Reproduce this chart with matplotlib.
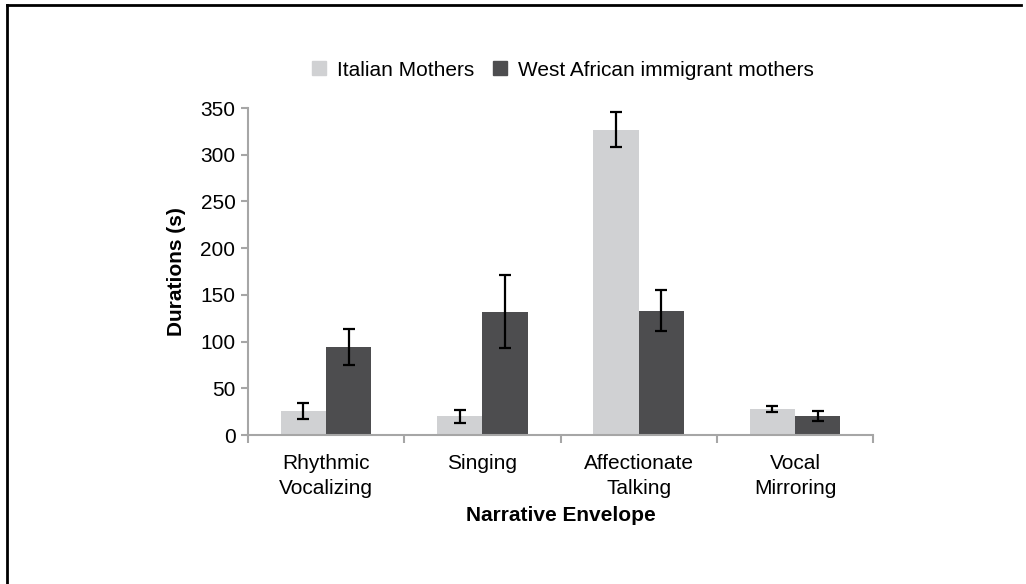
import matplotlib
matplotlib.use("Agg")
import matplotlib.pyplot as plt
import numpy as np
from matplotlib.lines import Line2D

plt.rcParams['font.family'] = ['Liberation Sans', 'DejaVu Sans']

# data
categories = ['Rhythmic\nVocalizing', 'Singing', 'Affectionate\nTalking', 'Vocal\nMirroring']
italian = [26, 20, 327, 28]
italian_err = [8.5, 6.6, 18.4, 3.4]
african = [94, 132, 133, 20]
african_err = [19, 39, 22, 5.5]
series_names = ['Italian Mothers', 'West African immigrant mothers']

light = '#d0d1d3'
dark = '#4d4d4f'
axis_grey = '#a6a6a6'

fig = plt.figure(figsize=(10.26, 5.84), dpi=100)
ax = fig.add_axes([0.2417, 0.2551, 0.851 - 0.2417, 0.815 - 0.2551])

x = np.arange(len(categories))
w = 0.29
ax.bar(x - w / 2, italian, w, color=light, zorder=2)
ax.bar(x + w / 2, african, w, color=dark, zorder=2)
ax.errorbar(x - w / 2, italian, yerr=italian_err, fmt='none', ecolor='black',
            elinewidth=1.6, capsize=4, capthick=1.6, zorder=3)
ax.errorbar(x + w / 2, african, yerr=african_err, fmt='none', ecolor='black',
            elinewidth=1.6, capsize=4, capthick=1.6, zorder=3)

ax.set_xlim(-0.5, len(categories) - 0.5)
ax.set_ylim(0, 350)
ax.set_yticks(np.arange(0, 351, 50))

# category labels centred, ticks on the boundaries
ax.set_xticks(x)
ax.set_xticklabels(categories, fontsize=15, linespacing=1.35)
ax.tick_params(axis='x', which='major', length=0, pad=14)
ax.set_xticks(np.arange(-0.5, len(categories)), minor=True)
ax.tick_params(axis='x', which='minor', length=6, width=1.5, color=axis_grey, direction='out')
ax.tick_params(axis='y', length=5, width=1.5, color=axis_grey, labelsize=15, pad=4)

for side in ['top', 'right']:
    ax.spines[side].set_visible(False)
for side in ['left', 'bottom']:
    ax.spines[side].set_color(axis_grey)
    ax.spines[side].set_linewidth(1.5)

ax.set_ylabel('Durations (s)', fontsize=15, fontweight='bold', labelpad=10)
ax.set_xlabel('Narrative Envelope', fontsize=15, fontweight='bold', labelpad=6)

handles = [Line2D([], [], marker='s', linestyle='none', markersize=10, color=light),
           Line2D([], [], marker='s', linestyle='none', markersize=10, color=dark)]
fig.legend(handles, series_names, loc='center', bbox_to_anchor=(0.548, 0.88), ncol=2,
           frameon=False, fontsize=15, handlelength=0.8, handletextpad=0.5, columnspacing=0.8)

# frame of the original figure: left and top edges only
fig.add_artist(Line2D([0.0068, 0.0068], [0, 0.992], transform=fig.transFigure, color='black', lw=2))
fig.add_artist(Line2D([0.0068, 0.995], [0.992, 0.992], transform=fig.transFigure, color='black', lw=2))

fig.savefig('out.png', dpi=100)
